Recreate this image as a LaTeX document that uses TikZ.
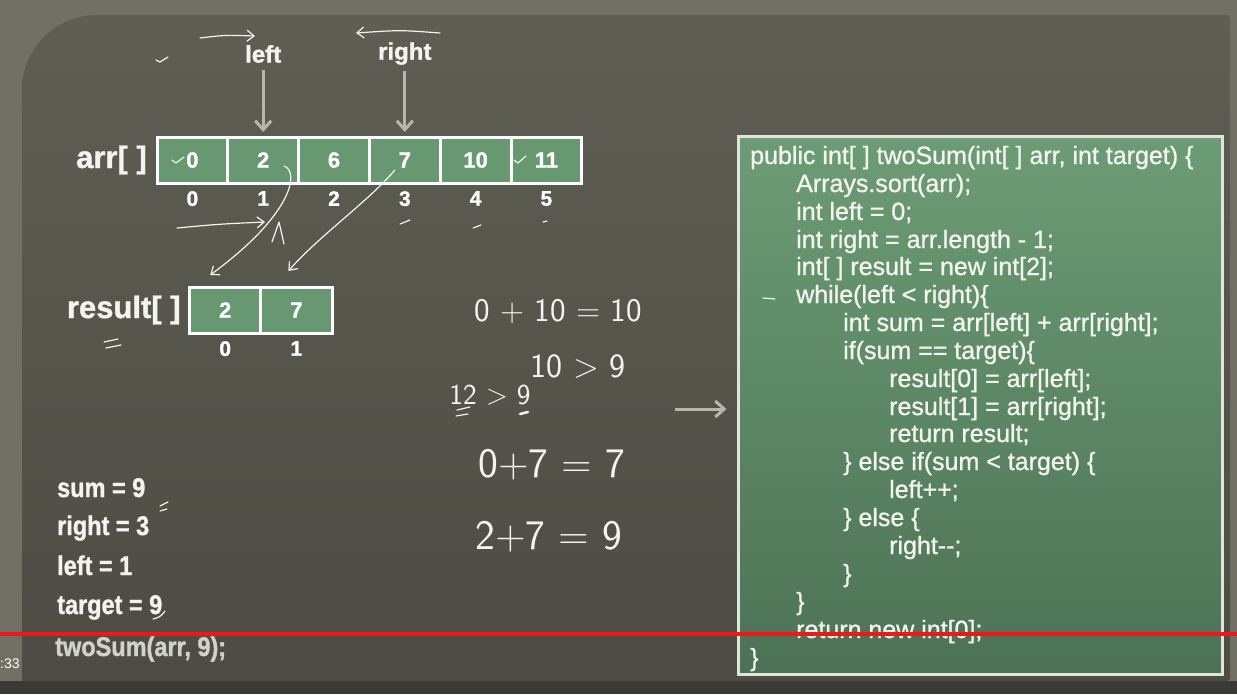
\documentclass[tikz,border=0pt]{standalone}
\usepackage{fontspec}
\setmainfont{Liberation Sans}[BoldFeatures={FakeBold=1.2}]
\newfontfamily\narrowsans{Liberation Sans}[FakeStretch=0.87, BoldFeatures={FakeBold=1.2}]
\newfontfamily\codesans{Liberation Sans}[FakeBold=1]
\usetikzlibrary{arrows.meta, positioning, calc}
\definecolor{framegray}{RGB}{112,112,101}
\definecolor{boardtop}{RGB}{94,94,84}
\definecolor{boardbot}{RGB}{76,76,68}
\definecolor{floorgray}{RGB}{58,58,53}
\definecolor{cellgreen}{RGB}{104,152,113}
\definecolor{codetop}{RGB}{108,156,117}
\definecolor{codebot}{RGB}{76,114,85}
\definecolor{pointergray}{RGB}{182,182,170}
\definecolor{chalk}{RGB}{244,244,238}
\definecolor{playred}{RGB}{238,24,24}

\begin{document}
\begin{tikzpicture}[x=1pt, y=-1pt,
  cell/.style={draw=white, line width=3pt, fill=cellgreen,
               minimum width=70.8pt, minimum height=46pt,
               inner sep=0pt, outer sep=0pt, text=white,
               font=\fontsize{22}{24}\selectfont\bfseries},
  idx/.style={inner sep=0pt, text=white,
              font=\fontsize{21}{24}\selectfont\bfseries},
  arrname/.style={inner sep=0pt, text=chalk,
                  font=\fontsize{31}{34}\selectfont\bfseries},
  ptrname/.style={inner sep=2pt, text=chalk,
                  font=\fontsize{24}{28}\selectfont\bfseries},
  varline/.style={anchor=base west, inner sep=0pt, text=chalk,
                  font=\narrowsans\fontsize{27}{30}\selectfont\bfseries},
  codeline/.style={anchor=base west, inner sep=0pt, text=chalk,
                   font=\codesans\fontsize{25}{30}\selectfont},
  hand/.style={inner sep=0pt, text=chalk,
               font=\sffamily\fontsize{33}{36}\selectfont},
  pointer/.style={-{Straight Barb[length=9pt,width=16pt]}, line width=3pt, pointergray},
  ink/.style={draw=chalk, line width=1.2pt, line cap=round, line join=round},
  inkarr/.style={ink, -{Straight Barb[length=7pt,width=11pt]}}
]
\useasboundingbox (0,0) rectangle (1237,694);
% board and frame
\fill[framegray] (0,0) rectangle (1237,694);
\fill[floorgray] (0,681) rectangle (1237,694);
\path[top color=boardtop, bottom color=boardbot]
  (22,681) [rounded corners=75pt] -- (22,15) [rounded corners=3pt] -- (1230,15)
  -- (1230,681) [sharp corners] -- cycle;

% the array
\node[cell] (a0) at (192.4,160) {0};
\node[cell, right=0pt of a0] (a1) {2};
\node[cell, right=0pt of a1] (a2) {6};
\node[cell, right=0pt of a2] (a3) {7};
\node[cell, right=0pt of a3] (a4) {10};
\node[cell, right=0pt of a4] (a5) {11};
\node[idx, below=8pt of a0] (i0) {0};
\node[idx, below=8pt of a1] (i1) {1};
\node[idx, below=8pt of a2] (i2) {2};
\node[idx, below=8pt of a3] (i3) {3};
\node[idx, below=8pt of a4] (i4) {4};
\node[idx, below=8pt of a5] (i5) {5};
\node[arrname, left=10pt of a0] (arrlbl) {arr[ ]};

% left / right pointers
\node[ptrname, above=72pt of a1] (pleft) {left};
\node[ptrname, above=70pt of a3] (pright) {right};
\draw[pointer, shorten <=5pt, shorten >=5pt] (pleft) -- (pleft |- a1.north);
\draw[pointer, shorten <=4pt, shorten >=5pt] (pright) -- (pright |- a3.north);

% the result array
\node[cell] (r0) at (225.2,310) {2};
\node[cell, minimum width=71.5pt, right=0pt of r0] (r1) {7};
\node[idx, below=8pt of r0] (ri0) {0};
\node[idx, below=8pt of r1] (ri1) {1};
\node[arrname, left=9pt of r0] (reslbl) {result[ ]};

% state of the variables
\node[varline] (vsum) at (57,497) {sum = 9};
\node[varline] (vright) at (57,535) {right = 3};
\node[varline] (vleft) at (57,575) {left = 1};
\node[varline] (vtarget) at (57,614) {target = 9};
\node[varline, text=chalk!80!boardbot] (vcall) at (55,656) {twoSum(arr, 9);};

% handwritten sums
\node[hand] (eq1) at (558,311) {0 + 10 = 10};
\node[hand, font=\sffamily\fontsize{34}{36}\selectfont] (eq2) at (578,367) {10 > 9};
\node[hand, font=\sffamily\fontsize{29}{30}\selectfont] (eq3) at (490,395) {12 > 9};
\node[hand, font=\sffamily\fontsize{42}{46}\selectfont] (eq4) at (552,465) {0+7 = 7};
\node[hand, font=\sffamily\fontsize{42}{46}\selectfont] (eq5) at (549,537) {2+7 = 9};

% the code
\node[draw=chalk!85!gray, line width=3pt, top color=codetop, bottom color=codebot,
      minimum width=484pt, minimum height=538pt, inner sep=0pt] (codebox) at (980,405) {};
\coordinate (nudge) at (675,409);
\draw[pointer] (nudge) -- ([xshift=-10pt]codebox.west |- nudge);
\node[codeline] (c0) at (750,164) {public int[ ] twoSum(int[ ] arr, int target) \{};
\node[codeline] (c1) at (796,192) {Arrays.sort(arr);};
\node[codeline] (c2) at (796,220) {int left = 0;};
\node[codeline] (c3) at (796,248) {int right = arr.length - 1;};
\node[codeline] (c4) at (796,275) {int[ ] result = new int[2];};
\node[codeline] (c5) at (796,303) {while(left < right)\{};
\node[codeline] (c6) at (843,331) {int sum = arr[left] + arr[right];};
\node[codeline] (c7) at (843,359) {if(sum == target)\{};
\node[codeline] (c8) at (889,387) {result[0] = arr[left];};
\node[codeline] (c9) at (889,415) {result[1] = arr[right];};
\node[codeline] (c10) at (889,442) {return result;};
\node[codeline] (c11) at (843,470) {\} else if(sum < target) \{};
\node[codeline] (c12) at (889,498) {left++;};
\node[codeline] (c13) at (843,526) {\} else \{};
\node[codeline] (c14) at (889,554) {right-{}-;};
\node[codeline] (c15) at (843,582) {\}};
\node[codeline] (c16) at (796,610) {\}};
\node[codeline] (c17) at (796,638) {return new int[0];};
\node[codeline] (c18) at (750,666) {\}};

% pen strokes
\draw[inkarr] ([shift={(21,6)}]a1.center) .. controls (300,172) and (292,215) .. ([shift={(-15,-12)}]r0.north);
\draw[inkarr] ([shift={(-10,10)}]a3.center) .. controls (370,200) and (320,235) .. ([shift={(-8,-16)}]r1.north);
\draw[inkarr] (200,38) .. controls (225,35) .. (255,36);
\draw[inkarr] (440,33) .. controls (400,30) .. (356,33);
\draw[inkarr] (177,228) .. controls (220,224) .. (265,222);
\draw[ink] (272,242) -- (279,222) -- (284,244);
\draw[ink] (156,60) -- (160,62) -- (168,57);
\draw[ink] (172,160) -- (176,163) -- (184,157);
\draw[ink] (514,160) -- (518,163) -- (526,156);
\draw[ink] (400,224) -- (410,220);
\draw[ink] (473,228) -- (481,225);
\draw[ink] (543,222) -- (547,221);
\draw[ink] (104,342) -- (118,339);
\draw[ink] (106,348) -- (121,345);
\draw[ink] (457,410) -- (470,407);
\draw[ink] (456,416) -- (468,414);
\draw[ink, line width=2.5pt] (520,414) -- (528,412);
\draw[ink] (763,298) -- (775,299);
\draw[ink] (160,506) -- (168,502);
\draw[ink] (160,511) -- (167,509);
\draw[ink] (153,619) .. controls (160,617) .. (165,611);

% player overlay
\draw[playred, line width=4pt] (0,634) -- (1237,634);
\node[inner sep=0pt, anchor=west, text=white, font=\fontsize{14}{16}\selectfont] (stamp) at (0,664) {:33};
\end{tikzpicture}
\end{document}
